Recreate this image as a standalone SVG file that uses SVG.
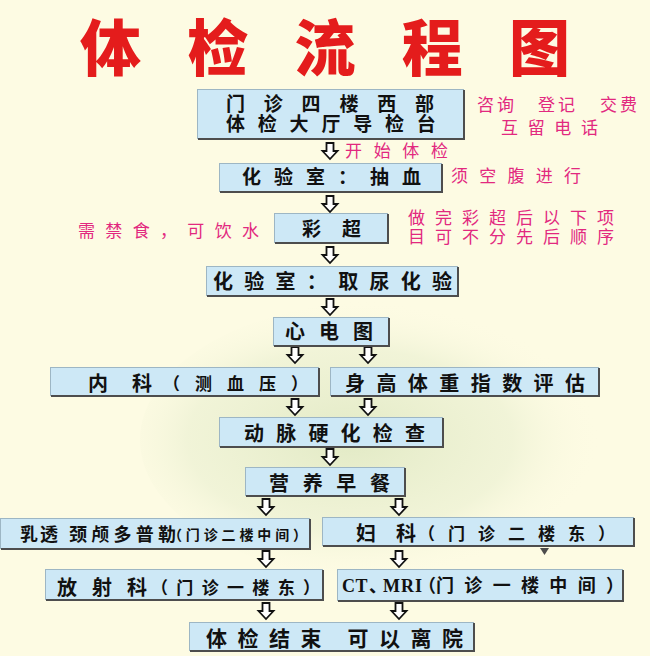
<svg xmlns="http://www.w3.org/2000/svg" width="650" height="656" viewBox="0 0 650 656">
<defs>
<style>
.bg{fill:#fdfbe3}
.box rect{fill:#cde8f6;stroke:#9db6c4;stroke-width:1}
.box path{fill:none;stroke:#4d4d4d;stroke-width:2}
.bt{font-family:"Noto Sans CJK SC","Noto Sans",sans-serif;font-weight:700;fill:#111}
.lat{font-family:"Liberation Serif","Noto Sans CJK SC",serif;font-weight:700;fill:#111}
.pk{font-family:"Noto Sans CJK SC","Noto Sans",sans-serif;font-size:17px;fill:#e2287f}
.ttl{font-family:"Noto Sans CJK SC","Noto Sans",sans-serif;font-weight:900;font-size:61px;fill:#e41c1c}
.arr{fill:#fff;stroke:#111;stroke-width:1.8;stroke-linejoin:miter}
</style>
<radialGradient id="blob" cx="0.42" cy="0.5" r="0.5">
<stop offset="0" stop-color="#dfe8c2" stop-opacity="0.9"/>
<stop offset="0.65" stop-color="#e9efd0" stop-opacity="0.6"/>
<stop offset="1" stop-color="#fdfbe3" stop-opacity="0"/>
</radialGradient>
<path id="ar" d="M-3.5,0 H3.5 V8 H7.5 L0,16 L-7.5,8 H-3.5 Z"/>
</defs>
<rect class="bg" x="0" y="0" width="650" height="656"/>
<ellipse cx="390" cy="440" rx="250" ry="140" fill="url(#blob)"/>

<text id="title" class="ttl" x="80" y="71" textLength="490" lengthAdjust="spacing">体检流程图</text>

<g id="connectors">
<use href="#ar" class="arr" x="330" y="143"/>
<use href="#ar" class="arr" x="330" y="196"/>
<use href="#ar" class="arr" x="330" y="247"/>
<use href="#ar" class="arr" x="330" y="299"/>
<use href="#ar" class="arr" x="295" y="347"/>
<use href="#ar" class="arr" x="368" y="347"/>
<use href="#ar" class="arr" x="295" y="399"/>
<use href="#ar" class="arr" x="368" y="399"/>
<use href="#ar" class="arr" x="330" y="449"/>
<use href="#ar" class="arr" x="266" y="499"/>
<use href="#ar" class="arr" x="399" y="499"/>
<use href="#ar" class="arr" x="266" y="551"/>
<use href="#ar" class="arr" x="399" y="551"/>
<use href="#ar" class="arr" x="266" y="603"/>
<use href="#ar" class="arr" x="399" y="603"/>
<polygon points="540,548 549,548 544.5,555" fill="#4d4d4d"/>
</g>

<g id="n1" class="box">
<rect x="197.5" y="89.5" width="266" height="49"/>
<path d="M464,90 V139 H198"/>
<text class="bt" font-size="19" x="226 263.8 301.6 339.4 377.2 415 226 257.8 289.6 321.4 353.2 385 416.8" y="111 111 111 111 111 111 131 131 131 131 131 131 131">门诊四楼西部体检大厅导检台</text>
</g>
<g id="n2" class="box">
<rect x="219.5" y="163.5" width="222" height="28"/>
<path d="M442,164 V192 H220"/>
<text class="bt" font-size="19" x="242" y="184" textLength="179" lengthAdjust="spacing">化验室：抽血</text>
</g>
<g id="n3" class="box">
<rect x="274.5" y="213.5" width="113" height="29"/>
<path d="M388,214 V243 H275"/>
<text class="bt" font-size="19" x="302" y="236" textLength="59" lengthAdjust="spacing">彩超</text>
</g>
<g id="n4" class="box">
<rect x="206.5" y="266.5" width="251" height="29"/>
<path d="M458,267 V296 H207"/>
<text class="bt" font-size="20" x="213" y="289" textLength="239" lengthAdjust="spacing">化验室：取尿化验</text>
</g>
<g id="n5" class="box">
<rect x="273.5" y="317.5" width="115" height="28"/>
<path d="M389,318 V346 H274"/>
<text class="bt" font-size="20" x="285" y="339" textLength="88" lengthAdjust="spacing">心电图</text>
</g>
<g id="n6" class="box">
<rect x="50.5" y="367.5" width="268" height="28"/>
<path d="M319,368 V396 H51"/>
<text class="bt" font-size="20" x="88" y="391" textLength="64" lengthAdjust="spacing">内科</text>
<text class="bt" font-size="17" x="163" y="390" textLength="145" lengthAdjust="spacing">（测血压）</text>
</g>
<g id="n7" class="box">
<rect x="330.5" y="367.5" width="268" height="28"/>
<path d="M599,368 V396 H331"/>
<text class="bt" font-size="20" x="345" y="391" textLength="240" lengthAdjust="spacing">身高体重指数评估</text>
</g>
<g id="n8" class="box">
<rect x="219.5" y="417.5" width="223" height="29"/>
<path d="M443,418 V447 H220"/>
<text class="bt" font-size="20" x="244" y="441" textLength="181" lengthAdjust="spacing">动脉硬化检查</text>
</g>
<g id="n9" class="box">
<rect x="245.5" y="467.5" width="159" height="28"/>
<path d="M405,468 V496 H246"/>
<text class="bt" font-size="20" x="269" y="491" textLength="121" lengthAdjust="spacing">营养早餐</text>
</g>
<g id="n10" class="box">
<rect x="0.5" y="518.5" width="309" height="30"/>
<path d="M310,519 V549 H1"/>
<text class="bt" font-size="18" x="20" y="541" textLength="38" lengthAdjust="spacing">乳透</text>
<text class="bt" font-size="18" x="69" y="541" textLength="107" lengthAdjust="spacing">颈颅多普勒</text>
<text class="bt" font-size="14" x="168" y="540" textLength="139" lengthAdjust="spacing">（门诊二楼中间）</text>
</g>
<g id="n11" class="box">
<rect x="322.5" y="517.5" width="311" height="28"/>
<path d="M634,518 V546 H323"/>
<text class="bt" font-size="20" x="356" y="541" textLength="60" lengthAdjust="spacing">妇科</text>
<text class="bt" font-size="17" x="418" y="540" textLength="197" lengthAdjust="spacing">（门诊二楼东）</text>
</g>
<g id="n12" class="box">
<rect x="45.5" y="569.5" width="277" height="30"/>
<path d="M323,570 V600 H46"/>
<text class="bt" font-size="20" x="57" y="595" textLength="90" lengthAdjust="spacing">放射科</text>
<text class="bt" font-size="17" x="151" y="594" textLength="169" lengthAdjust="spacing">（门诊一楼东）</text>
</g>
<g id="n13" class="box">
<rect x="337.5" y="569.5" width="285" height="31"/>
<path d="M623,570 V601 H338"/>
<text class="lat" font-size="18" x="342 355.5 369 383 401 415 418 436 464.3 492.7 521 549.3 577.7 606" y="592">CT、MRI（门诊一楼中间）</text>
</g>
<g id="n14" class="box">
<rect x="189.5" y="622.5" width="284" height="28"/>
<path d="M474,623 V651 H190"/>
<text class="bt" font-size="21" x="206" y="646" textLength="257" lengthAdjust="spacing">体检结束 可以离院</text>
</g>

<g id="notes">
<text class="pk" x="477 497 517 538 558 578 600 620 501 527.7 554.3 581" y="111 111 111 111 111 111 111 111 134 134 134 134">咨询 登记 交费互留电话</text>
<text class="pk" x="345" y="157" textLength="103" lengthAdjust="spacing">开始体检</text>
<text class="pk" x="451" y="182" textLength="130" lengthAdjust="spacing">须空腹进行</text>
<text class="pk" x="78" y="237" textLength="181" lengthAdjust="spacing">需禁食，可饮水</text>
<text class="pk" x="408 435 462 489 516 543 570 597 408 435 462 489 516 543 570 597" y="224 224 224 224 224 224 224 224 243 243 243 243 243 243 243 243">做完彩超后以下项目可不分先后顺序</text>
</g>
</svg>
